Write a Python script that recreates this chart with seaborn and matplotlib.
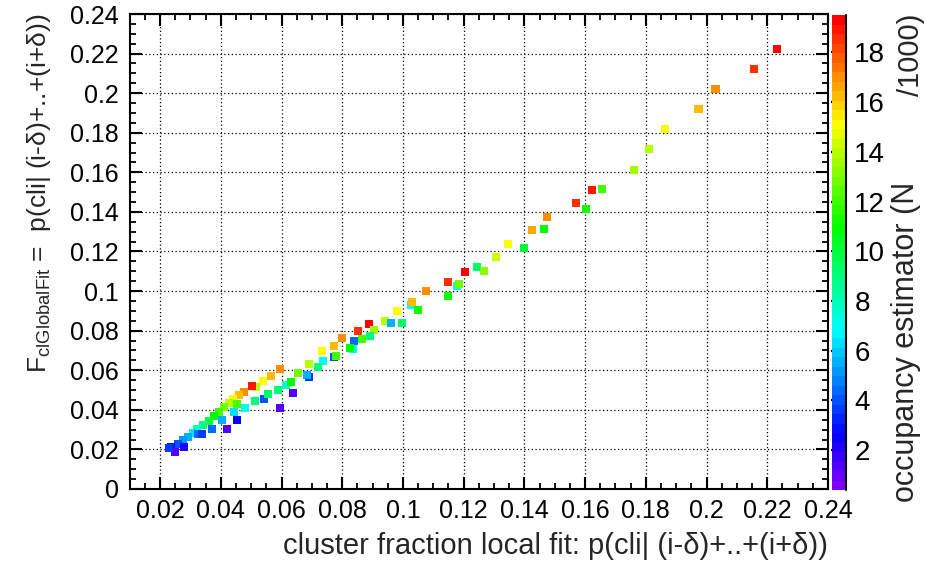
import matplotlib
matplotlib.use("Agg")
import numpy as np
import pandas as pd
import seaborn as sns
import matplotlib.pyplot as plt
from matplotlib.colors import ListedColormap, Normalize, hsv_to_rgb
from matplotlib.ticker import MultipleLocator, FuncFormatter
from matplotlib.cm import ScalarMappable

# cluster fraction from the local fit (x) and from the global fit (y)
local_fit = [
    0.2233, 0.2157, 0.2029, 0.1973, 0.1864, 0.1811, 0.1762, 0.1623, 0.1656, 0.1571,
    0.1604, 0.1475, 0.1426, 0.1465, 0.1347, 0.1399, 0.1307, 0.1245, 0.1268, 0.1205,
    0.1149, 0.1179, 0.1185, 0.1149, 0.1077, 0.1027, 0.1030, 0.1050, 0.0981, 0.0941,
    0.0961, 0.0997, 0.0889, 0.0905, 0.0852, 0.0892, 0.0800, 0.0839, 0.0866, 0.0773,
    0.0836, 0.0826, 0.0734, 0.0773, 0.0780, 0.0737, 0.0691, 0.0721, 0.0655, 0.0691,
    0.0684, 0.0595, 0.0566, 0.0539, 0.0516, 0.0503, 0.0477, 0.0460, 0.0441, 0.0427,
    0.0454, 0.0411, 0.0394, 0.0378, 0.0361, 0.0342, 0.0322, 0.0309, 0.0292, 0.0276,
    0.0259, 0.0236, 0.0249, 0.0279, 0.0325, 0.0338, 0.0371, 0.0404, 0.0444, 0.0454,
    0.0421, 0.0480, 0.0513, 0.0543, 0.0556, 0.0589, 0.0615, 0.0638, 0.0595, 0.0632,
    0.0230,
]
global_fit = [
    0.2222, 0.2121, 0.2020, 0.1919, 0.1818, 0.1717, 0.1611, 0.1510, 0.1515, 0.1444,
    0.1414, 0.1374, 0.1308, 0.1313, 0.1237, 0.1217, 0.1172, 0.1121, 0.1101, 0.1096,
    0.1045, 0.1025, 0.1035, 0.0975, 0.1000, 0.0929, 0.0944, 0.0904, 0.0899, 0.0848,
    0.0838, 0.0838, 0.0833, 0.0803, 0.0798, 0.0773, 0.0763, 0.0747, 0.0758, 0.0722,
    0.0707, 0.0712, 0.0697, 0.0667, 0.0672, 0.0646, 0.0631, 0.0616, 0.0586, 0.0566,
    0.0576, 0.0606, 0.0571, 0.0545, 0.0515, 0.0520, 0.0490, 0.0475, 0.0455, 0.0434,
    0.0429, 0.0414, 0.0389, 0.0369, 0.0343, 0.0323, 0.0303, 0.0283, 0.0263, 0.0247,
    0.0227, 0.0212, 0.0187, 0.0212, 0.0278, 0.0278, 0.0303, 0.0348, 0.0389, 0.0348,
    0.0303, 0.0409, 0.0444, 0.0455, 0.0480, 0.0500, 0.0525, 0.0485, 0.0409, 0.0540,
    0.0207,
]
# occupancy estimator (N/1000) used for the colour scale
occupancy = [
    19.2, 18.5, 17.2, 16.3, 15.2, 14.0, 13.5, 19.0, 12.0, 18.5,
    11.3, 17.2, 16.5, 11.0, 15.0, 10.0, 14.3, 9.2, 13.2, 19.2,
    18.5, 7.0, 12.8, 11.2, 17.2, 7.0, 16.2, 11.3, 15.2, 14.0,
    5.5, 9.2, 19.2, 13.5, 18.5, 9.0, 17.2, 4.5, 12.0, 16.3,
    7.0, 11.0, 15.2, 4.0, 12.0, 7.2, 14.0, 9.0, 13.0, 3.5,
    5.5, 17.0, 16.2, 15.2, 14.0, 19.0, 17.2, 16.2, 15.2, 14.0,
    12.0, 13.0, 12.0, 11.0, 10.0, 9.0, 8.0, 6.2, 5.5, 5.0,
    4.0, 3.0, 1.2, 2.0, 4.5, 3.5, 4.5, 5.5, 6.2, 2.5,
    1.5, 7.0, 9.0, 4.0, 9.5, 9.0, 7.5, 1.5, 1.5, 11.0,
    3.5,
]
cbar_ticks = [2, 4, 6, 8, 10, 12, 14, 16, 18]

df = pd.DataFrame({"local": local_fit, "global": global_fit, "occ": occupancy})

sns.set_style("ticks")
plt.rcParams["font.family"] = ["Liberation Sans", "DejaVu Sans"]
plt.rcParams["mathtext.fontset"] = "custom"
plt.rcParams["mathtext.rm"] = "Liberation Sans"
plt.rcParams["mathtext.it"] = "Liberation Sans:italic"

# rainbow palette: violet -> blue -> cyan -> green -> yellow -> red
n_levels = 50
hues = np.linspace(0.75, 0.0, n_levels)
cmap = ListedColormap(hsv_to_rgb(np.column_stack([hues, np.ones(n_levels), np.ones(n_levels)])))
norm = Normalize(vmin=0.4, vmax=19.5)

W, H = 925, 569
fig = plt.figure(figsize=(W / 100, H / 100), dpi=100)
ax = fig.add_axes([130 / W, 1 - 489 / H, 698 / W, 475 / H])
cax = fig.add_axes([832 / W, 1 - 490 / H, 14 / W, 475 / H])

sns.scatterplot(data=df, x="local", y="global", hue="occ", palette=cmap, hue_norm=norm,
                marker="s", s=36, linewidth=0, legend=False, ax=ax, zorder=3)

ax.set_xlim(0.0101, 0.24)
ax.set_ylim(0.0, 0.24)
ax.xaxis.set_major_locator(MultipleLocator(0.02))
ax.xaxis.set_minor_locator(MultipleLocator(0.005))
ax.yaxis.set_major_locator(MultipleLocator(0.02))
ax.yaxis.set_minor_locator(MultipleLocator(0.005))
fmt = FuncFormatter(lambda v, p: "%g" % round(v, 4))
ax.xaxis.set_major_formatter(fmt)
ax.yaxis.set_major_formatter(fmt)

ax.grid(True, which="major", color="black", linestyle=(0, (1, 2)), linewidth=0.9)
ax.set_axisbelow(True)
for sp in ax.spines.values():
    sp.set_linewidth(1.5)
    sp.set_color("black")
ax.tick_params(which="both", direction="in", top=True, right=True, colors="black")
ax.tick_params(which="major", length=8.6, width=1.5, labelsize=18)
ax.tick_params(which="minor", length=4.3, width=1.3)
ax.tick_params(axis="y", which="major", pad=8)
ax.tick_params(axis="x", which="major", pad=7)

ax.set_xlabel("cluster fraction local fit: p(cli| (i-δ)+..+(i+δ))", fontsize=21, loc="right")
ax.xaxis.set_label_coords(1.0, -0.09)
ax.set_ylabel(r"F$_{\mathregular{clGlobalFit}}$ =  p(cli| (i-δ)+..+(i+δ))", fontsize=19, loc="top")
ax.yaxis.set_label_coords(-0.11, 1.0)

cb = fig.colorbar(ScalarMappable(norm=norm, cmap=cmap), cax=cax)
cb.set_ticks(cbar_ticks)
cb.outline.set_visible(False)
cax.plot([1, 1], [0, 1], transform=cax.transAxes, color="black", lw=1.5, clip_on=False)
cax.tick_params(direction="in", length=11, width=1.6, labelsize=20, pad=6, colors="black")

# colour-scale title, split around the subscript gap
fig.text(914 / W, 1 - 502 / H, "occupancy estimator (N", rotation=90, rotation_mode="anchor",
         ha="left", va="baseline", fontsize=22)
fig.text(919 / W, 1 - 96 / H, "/1000)", rotation=90, rotation_mode="anchor",
         ha="left", va="baseline", fontsize=21)

fig.savefig("out.png", dpi=100)
